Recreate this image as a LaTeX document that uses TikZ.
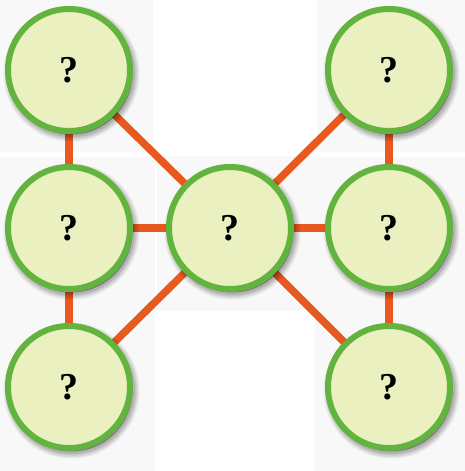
\documentclass[tikz,border=0pt]{standalone}
\usepackage{fontspec}
\setmainfont{Liberation Serif}
\definecolor{panel}{HTML}{F8F8F8}
\definecolor{nodefill}{HTML}{EAF0C0}
\definecolor{nodeline}{HTML}{63B33F}
\definecolor{link}{HTML}{E9581E}
\pgfdeclarelayer{panels}
\pgfdeclarelayer{links}
\pgfsetlayers{panels,links,main}
\tikzset{
  qnode/.style={circle, draw=nodeline, line width=6pt, fill=nodefill, minimum size=122pt, inner sep=0pt,
    font=\fontsize{38}{38}\selectfont\bfseries,
    preaction={draw=black, draw opacity=0.06, line width=14pt, transform canvas={shift={(2.5pt,-3.5pt)}}},
    preaction={draw=black, draw opacity=0.07, line width=11pt, transform canvas={shift={(2.5pt,-3.5pt)}}},
    preaction={draw=black, draw opacity=0.08, line width=8pt, transform canvas={shift={(2.5pt,-3.5pt)}}},
    preaction={draw=black, draw opacity=0.10, line width=5pt, fill=black, fill opacity=0.3, transform canvas={shift={(2.5pt,-3.5pt)}}}},
  linkline/.style={draw=link, line width=7.5pt},
  bgpanel/.style={fill=panel, draw=none}
}
\begin{document}
\begin{tikzpicture}[x=1pt,y=-1pt]
\useasboundingbox (0,0) rectangle (465,471);
\begin{pgfonlayer}{panels}
\fill[white] (0,0) rectangle (465,471);
\path[bgpanel] (0,0) rectangle (153,152);
\path[bgpanel] (0,157) rectangle (155,471);
\path[bgpanel] (157,156) rectangle (315,311);
\path[bgpanel] (317,0) rectangle (465,152);
\path[bgpanel] (315,157) rectangle (465,471);
\end{pgfonlayer}
% nodes
\node[qnode] (tl) at (69,70) {?};
\node[qnode] (ml) at (69,228) {?};
\node[qnode] (bl) at (69,387) {?};
\node[qnode] (c) at (230,228) {?};
\node[qnode] (tr) at (389,70) {?};
\node[qnode] (mr) at (389,228) {?};
\node[qnode] (br) at (389,387) {?};
% links
\begin{pgfonlayer}{links}
\draw[linkline] (tl.center) -- (ml.center);
\draw[linkline] (ml.center) -- (bl.center);
\draw[linkline] (tr.center) -- (mr.center);
\draw[linkline] (mr.center) -- (br.center);
\draw[linkline] (ml.center) -- (c.center);
\draw[linkline] (c.center) -- (mr.center);
\draw[linkline] (tl.center) -- (c.center);
\draw[linkline] (bl.center) -- (c.center);
\draw[linkline] (tr.center) -- (c.center);
\draw[linkline] (br.center) -- (c.center);
\end{pgfonlayer}
\end{tikzpicture}
\end{document}
